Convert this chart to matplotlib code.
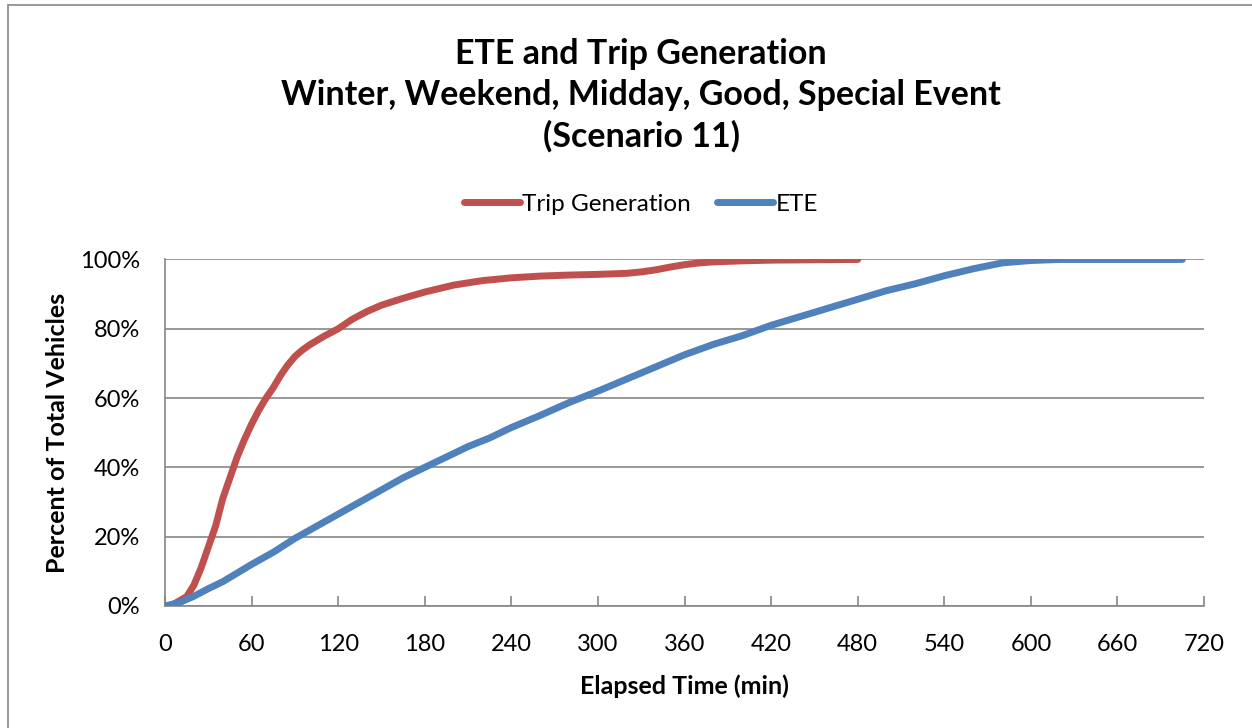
import numpy as np
import matplotlib.pyplot as plt
from matplotlib.patches import Rectangle
from matplotlib.ticker import FuncFormatter

plt.rcParams['font.family'] = ['Lato', 'DejaVu Sans']

# trip generation curve (minutes, percent)
trip_t = [0, 5, 10, 15, 20, 25, 30, 35, 40, 45, 50, 55, 60, 65, 70, 75, 80, 85, 90, 95,
          100, 110, 120, 130, 140, 150, 165, 180, 200, 220, 240, 260, 280, 300, 320,
          330, 340, 350, 360, 370, 380, 400, 420, 450, 480]
trip_pct = [0, 0.3, 1.5, 2.7, 6, 11, 17, 23, 31, 37, 43, 48, 52.5, 56.5, 60, 63, 66.5, 69.5,
            72, 73.8, 75.3, 77.8, 80, 82.8, 85, 86.8, 88.8, 90.6, 92.6, 93.9, 94.7, 95.2,
            95.5, 95.7, 96, 96.4, 97, 97.8, 98.5, 99, 99.3, 99.6, 99.8, 99.9, 100]

# ETE curve
ete_t = [0, 10, 20, 30, 40, 50, 60, 75, 90, 105, 120, 135, 150, 165, 180, 195, 210, 225,
         240, 260, 280, 300, 320, 340, 360, 380, 400, 420, 440, 460, 480, 500, 520, 540,
         560, 580, 600, 620, 660, 705]
ete_pct = [0, 1, 2.8, 5, 7, 9.5, 12, 15.5, 19.5, 23, 26.5, 30, 33.5, 37, 40, 43, 46, 48.5,
           51.5, 55, 58.7, 62, 65.5, 69, 72.5, 75.5, 78, 81, 83.5, 86, 88.5, 91, 93, 95.3,
           97.3, 99, 99.7, 100, 100, 100]

x_ticks = list(range(0, 721, 60))
y_ticks = [0, 20, 40, 60, 80, 100]

fig = plt.figure(figsize=(12.52, 7.28), dpi=100)
ax = fig.add_axes([0.1318, 0.1676, 0.8299, 0.476])

# chart border (cropped at right / bottom in the original)
fig.patches.append(Rectangle((0.0064, -0.05), 1.1, 1.043, transform=fig.transFigure,
                             fill=False, edgecolor='#868686', linewidth=1.2))

ax.plot(trip_t, trip_pct, color='#C0504D', linewidth=5, solid_capstyle='round',
        solid_joinstyle='round', label='Trip Generation', zorder=3)
ax.plot(ete_t, ete_pct, color='#4F81BD', linewidth=5, solid_capstyle='round',
        solid_joinstyle='round', label='ETE', zorder=4)

ax.set_xlim(0, 720)
ax.set_ylim(0, 100)
ax.set_xticks(x_ticks)
ax.set_yticks(y_ticks)
ax.yaxis.set_major_formatter(FuncFormatter(lambda v, p: f'{int(v)}%'))
ax.grid(axis='y', color='#868686', linewidth=1.2)
ax.set_axisbelow(True)

for s in ['top', 'right']:
    ax.spines[s].set_visible(False)
for s in ['left', 'bottom']:
    ax.spines[s].set_color('#868686')
    ax.spines[s].set_linewidth(1.2)
ax.tick_params(axis='both', direction='in', length=7, color='#868686', width=1.2,
               labelsize=17, pad=20)
ax.tick_params(axis='y', length=0, pad=18)

ax.set_xlabel('Elapsed Time (min)', fontsize=18, fontweight='bold', labelpad=14)
ax.set_ylabel('Percent of Total Vehicles', fontsize=18, fontweight='bold', labelpad=8)

fig.text(0.512, 0.869, 'ETE and Trip Generation\nWinter, Weekend, Midday, Good, Special Event\n(Scenario 11)',
         ha='center', va='center', fontsize=24.5, fontweight='bold', linespacing=1.35)

ax.legend(loc='center', bbox_to_anchor=(0.458, 1.16), ncol=2, frameon=False,
          fontsize=17.5, handlelength=2.3, handletextpad=0.1, columnspacing=1.1)

fig.savefig('out.png', dpi=100)
